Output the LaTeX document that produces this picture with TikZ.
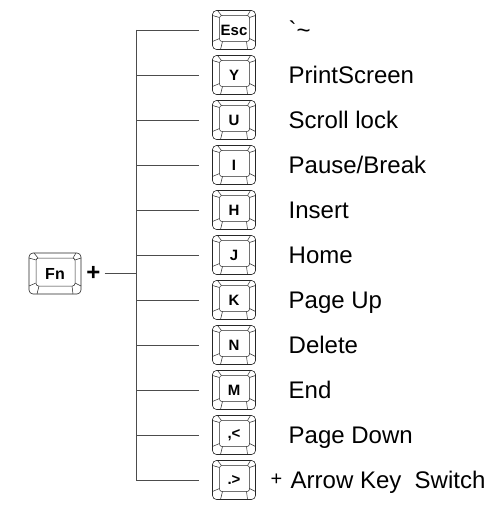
\documentclass[tikz,border=0pt]{standalone}
\usepackage{fontspec}
\setmainfont{Liberation Sans}
\usetikzlibrary{calc}

\tikzset{
  keycap/.style={draw=black!85,line width=0.6pt,rounded corners=4pt,minimum width=43pt,minimum height=39pt,
    inner sep=0pt,font=\bfseries\fontsize{15}{15}\selectfont,
    path picture={
      \coordinate (sw) at (path picture bounding box.south west);
      \coordinate (ne) at (path picture bounding box.north east);
      \coordinate (isw) at ($(sw)+(7pt,8pt)$); \coordinate (ine) at ($(ne)+(-6pt,-5pt)$);
      \coordinate (nw) at (sw|-ne); \coordinate (se) at (ne|-sw);
      \coordinate (inw) at (isw|-ine); \coordinate (ise) at (ine|-isw);
      \draw[black!85,line width=0.5pt,rounded corners=2.5pt] (isw) rectangle (ine);
      \draw[black!85,line width=0.5pt,sharp corners]
        ($(nw)+(0,-5pt)$)--($(inw)+(0,-2pt)$) ($(nw)+(5pt,0)$)--($(inw)+(2pt,0)$)
        ($(ne)+(0,-5pt)$)--($(ine)+(0,-2pt)$) ($(ne)+(-5pt,0)$)--($(ine)+(-2pt,0)$)
        ($(sw)+(0,8pt)$)--($(isw)+(0,3pt)$) ($(sw)+(8pt,0)$)--($(isw)+(3pt,0)$)
        ($(se)+(0,8pt)$)--($(ise)+(0,3pt)$) ($(se)+(-8pt,0)$)--($(ise)+(-3pt,0)$);
    }},
  fnlabel/.style={anchor=base west,inner sep=0pt,font=\fontsize{24}{24}\selectfont},
  branch/.style={draw=black!70,line width=0.7pt}
}

\begin{document}
\begin{tikzpicture}[x=1pt,y=-1pt]
\useasboundingbox (0,0) rectangle (494,505);
% Fn key and plus
\node[keycap,minimum width=52pt,minimum height=41pt,font=\bfseries\fontsize{16}{16}\selectfont] (fn) at (55,273.5) {Fn};
\node[inner sep=0pt,font=\bfseries\fontsize{24}{24}\selectfont] (plus) at (93.5,273) {+};
\coordinate (jfn) at (136,273);
\draw[branch,shorten <=4pt] (plus)--(jfn);
% key column
\foreach \k/\t [count=\i from 0] in {Esc/{\textasciigrave\textasciitilde},Y/PrintScreen,U/Scroll lock,I/{Pause/Break},
  H/Insert,J/Home,K/Page Up,N/Delete,M/End,{,<}/Page Down,{.>}/{}}{
  \pgfmathsetmacro\y{30+45*\i}
  \coordinate (j\i) at (136,\y);
  \node[keycap] (k\i) at (234,\y) {\k};
  \node[fnlabel] (t\i) at (288.5,\y+8.3) {\t};
  \draw[branch,shorten >=13pt] (j\i)--(k\i);
}
\draw[branch] (j0)--(j10);
% last row
\node[inner sep=0pt,font=\fontsize{20}{20}\selectfont] (pl2) at (276.5,480) {+};
\node[fnlabel] (arrow) at (290.5,488.3) {Arrow Key\ \ Switch};
\end{tikzpicture}
\end{document}
